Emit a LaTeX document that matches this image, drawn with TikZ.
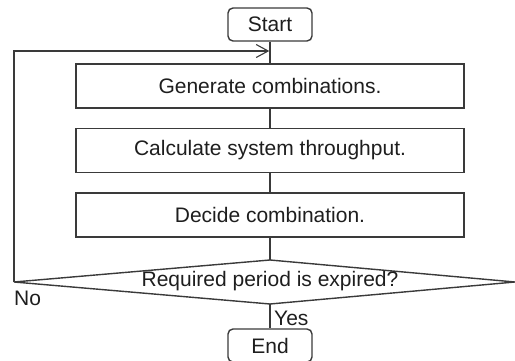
\documentclass[tikz,border=0pt]{standalone}
\usepackage{fontspec}
\setmainfont{Liberation Sans}
\usetikzlibrary{arrows.meta}
\definecolor{linec}{HTML}{3A3A3A}
\definecolor{textc}{HTML}{1E1E1E}
\tikzset{
  flow/.style={draw=linec, line width=1.4pt},
  termbox/.style={flow, rectangle, rounded corners=5pt, minimum width=84pt, minimum height=33pt, inner sep=0pt, text=textc, font=\fontsize{21}{25}\selectfont},
  procbox/.style={flow, rectangle, minimum width=388pt, minimum height=44pt, inner sep=0pt, text=textc, font=\fontsize{21}{25}\selectfont},
  lbl/.style={inner sep=0pt, text=textc, font=\fontsize{21}{25}\selectfont},
}
\begin{document}
\begin{tikzpicture}[x=1pt, y=-1pt]
\useasboundingbox (0,0) rectangle (515,361);
\node[termbox] (start) at (270,24.5) {Start};
\node[procbox] (gen) at (270,86) {Generate combinations.};
\node[procbox] (calc) at (270,150.5) {Calculate system throughput.};
\node[procbox] (dec) at (270,215) {Decide combination.};
\coordinate (dT) at (270,260);
\coordinate (dL) at (14,282);
\coordinate (dR) at (515,282);
\coordinate (dB) at (270,304);
\draw[flow, line join=miter] (dT) -- (dR) -- (dB) -- (dL) -- cycle;
\node[lbl] (q) at (270,281) {Required period is expired?};
\node[termbox] (end) at (270,345.5) {End};
\node[lbl, anchor=north west] (no) at (14,291) {No};
\node[lbl, anchor=west] (yes) at (274,318.5) {Yes};
\coordinate (lp) at (269.3,51);
\draw[flow] (start.south) -- (gen.north);
\draw[flow] (gen.south) -- (calc.north);
\draw[flow] (calc.south) -- (dec.north);
\draw[flow] (dec.south) -- (dT);
\draw[flow] (dB) -- (end.north);
\draw[flow, -{Straight Barb[length=12pt, width=13pt, line width=1.1pt]}] (dL) -- (dL |- lp) -- (lp);
\end{tikzpicture}
\end{document}
